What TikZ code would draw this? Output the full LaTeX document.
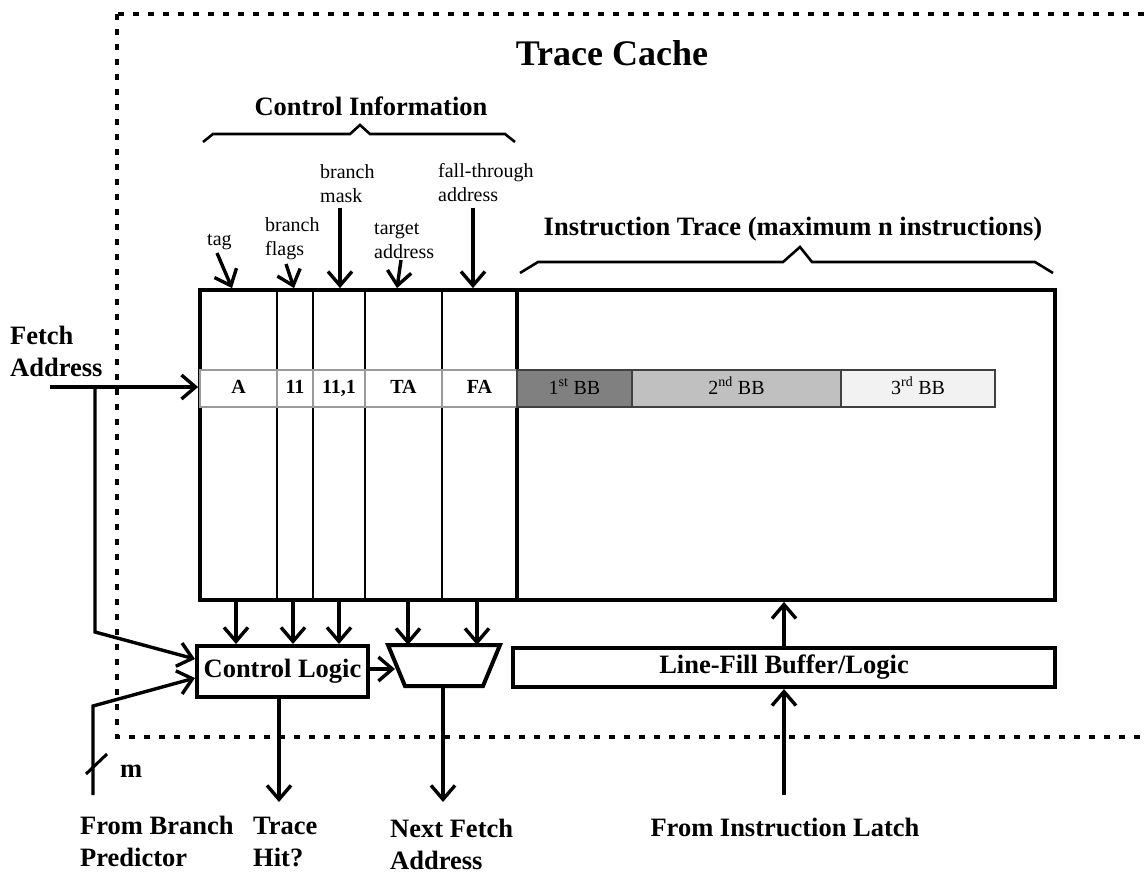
\documentclass[tikz,border=0pt]{standalone}
\usepackage{fontspec}
\setmainfont{Liberation Serif}
\usetikzlibrary{arrows.meta}

\newcommand\lblbf{\fontsize{26.5}{32}\selectfont\bfseries}
\newcommand\lblrm{\fontsize{20}{23.5}\selectfont}
\newcommand\cellbf{\fontsize{20}{24}\selectfont\bfseries}
\newcommand\titlebf{\fontsize{36}{40}\selectfont\bfseries}

\definecolor{bbdark}{HTML}{808080}
\definecolor{bbmid}{HTML}{C0C0C0}
\definecolor{bblight}{HTML}{F2F2F2}
\definecolor{cellrule}{HTML}{9A9A9A}

\tikzset{
  arr/.style={line width=3.4pt, -{Straight Barb[length=14pt,width=24pt]}},
  brace/.style={line width=2.6pt, line join=miter},
  cell/.style={draw=cellrule, line width=1.6pt, fill=white, minimum height=37pt,
               inner sep=0pt, font=\cellbf, text height=13pt, text depth=3pt},
  bbcell/.style={draw=black!75, line width=1.3pt, minimum height=37pt,
                 inner sep=0pt, font=\lblrm, text height=14pt, text depth=3pt},
  blockbox/.style={draw, line width=4pt, inner sep=0pt, font=\lblbf},
  lbl/.style={inner sep=0pt, font=\lblbf, align=left, anchor=base west},
  small/.style={inner sep=0pt, font=\lblrm, align=left, anchor=base west},
}

\begin{document}
\begin{tikzpicture}[x=1pt,y=-1pt]
\useasboundingbox (0,0) rectangle (1146,873);
\clip (0,0) rectangle (1146,873);

% dashed boundary of the trace cache
\draw[line width=3.3pt, dash pattern=on 6pt off 9pt] (117,14) rectangle (1190,737);
\node[font=\titlebf, inner sep=0pt, anchor=base] (title) at (612,65) {Trace Cache};

% braces (base anchor of a multi-line node sits on its last line)
\draw[brace] (203,142) -- (213,134) -- (350,134) -- (360,125) -- (370,134) -- (505,134) -- (515,142);
\node[font=\lblbf, inner sep=0pt, anchor=base] (ctlinfo) at (371,115) {Control Information};
\draw[brace] (520,273) -- (538,262) -- (783,262) -- (800,247) -- (812,262) -- (1035,262) -- (1053,273);
\node[font=\lblbf, inner sep=0pt, anchor=base] (itrace) at (793,235) {Instruction Trace (maximum n instructions)};

% trace line storage
\node[draw, line width=3.8pt, minimum width=855pt, minimum height=310pt, inner sep=0pt] (cache) at (627.5,445) {};
\foreach \cx in {277,313,365,442}
  \draw[line width=2.5pt] (\cx,290) -- (\cx,600);
\draw[line width=3.8pt] (517,290) -- (517,600);

% one stored trace line
\node[cell, minimum width=77pt] (cA)  at (238.5,388.5) {A};
\node[cell, minimum width=36pt] (cBF) at (295,388.5)   {11};
\node[cell, minimum width=52pt] (cBM) at (339,388.5)   {11,1};
\node[cell, minimum width=77pt] (cTA) at (403.5,388.5) {TA};
\node[cell, minimum width=75pt] (cFA) at (479.5,388.5) {FA};
\node[bbcell, fill=bbdark,  minimum width=115pt] (bb1) at (574.5,388.5) {1\textsuperscript{st} BB};
\node[bbcell, fill=bbmid,   minimum width=209pt] (bb2) at (736.5,388.5) {2\textsuperscript{nd} BB};
\node[bbcell, fill=bblight, minimum width=154pt] (bb3) at (918,388.5)   {3\textsuperscript{rd} BB};

% field labels
\node[small] (ltag) at (207,245) {tag};
\node[small] (lbf)  at (265,255) {branch\\flags};
\node[small] (lbm)  at (320,202) {branch\\mask};
\node[small] (lta)  at (374,258) {target\\address};
\node[small] (lfa)  at (438,201) {fall-through\\address};
\draw[arr] (217,253) -- (cache.north -| 232,0);
\draw[arr] (286,264) -- (cache.north -| 294,0);
\draw[arr] (340,208) -- (cache.north -| 340,0);
\draw[arr] (401,260) -- (cache.north -| 397,0);
\draw[arr] (473,208) -- (cache.north -| 473,0);

% control logic and next-address mux
\node[blockbox, minimum width=171pt, minimum height=51pt] (ctl) at (282.5,671.5) {Control Logic};
\draw[line width=4pt, line join=miter] (388,645) -- (500,645) -- (483,686) -- (405,686) -- cycle;
\coordinate (muxtop) at (443,645);
\coordinate (muxin) at (395,669);
\coordinate (muxout) at (443,686);
\draw[arr] (cache.south -| 236,0) -- (ctl.north -| 236,0);
\draw[arr] (cache.south -| 293,0) -- (ctl.north -| 293,0);
\draw[arr] (cache.south -| 339,0) -- (ctl.north -| 339,0);
\draw[arr] (cache.south -| 408,0) -- (muxtop -| 408,0);
\draw[arr] (cache.south -| 477,0) -- (muxtop -| 477,0);
\draw[arr] (ctl.east |- muxin) -- (muxin);

% line-fill buffer
\node[blockbox, minimum width=542pt, minimum height=39pt] (lfb) at (784,667.5) {Line-Fill Buffer/Logic};
\coordinate (latch) at (784,795);
\draw[arr] (lfb.north) -- (cache.south -| lfb.north);
\draw[arr] (latch) -- (lfb.south);

% fetch address input
\node[lbl] (lfetch) at (10,376) {Fetch\\Address};
\coordinate (fetch) at (50,387);
\coordinate (fsplit) at (95,387);
\draw[arr] (fetch) -- (cache.west |- fetch);
\draw[arr] (fsplit) -- (95,632) -- (ctl.west |- 0,659);

% branch predictor input
\coordinate (pred) at (93,795);
\draw[arr] (pred) -- (93,706) -- (ctl.west |- 0,678);
\draw[line width=3pt] (86,774) -- (107,754);
\node[lbl] (lm) at (120,777) {m};

% outputs
\coordinate (hit) at (279,802);
\coordinate (nfa) at (443,802);
\draw[arr] (ctl.south -| hit) -- (hit);
\draw[arr] (muxout) -- (nfa);

% bottom labels
\node[lbl] (lpred) at (80,866) {From Branch\\Predictor};
\node[lbl] (lhit)  at (253,866) {Trace\\Hit?};
\node[lbl] (lnfa)  at (390,869) {Next Fetch\\Address};
\node[font=\lblbf, inner sep=0pt, anchor=base] (llatch) at (785,836) {From Instruction Latch};
\end{tikzpicture}
\end{document}
